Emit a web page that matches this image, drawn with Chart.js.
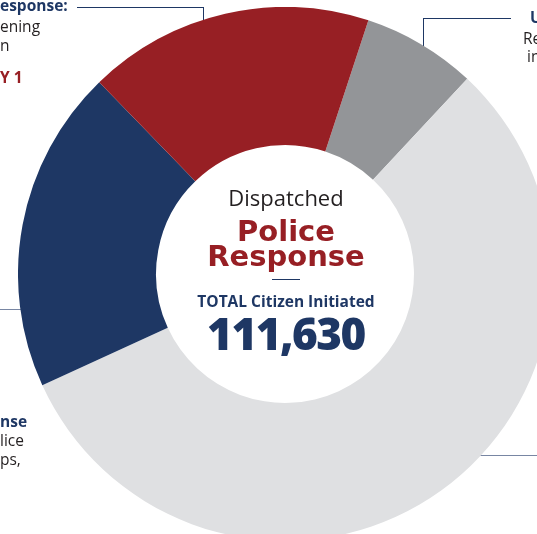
<!DOCTYPE html>
<html>
<head>
<meta charset="utf-8">
<script src="https://cdn.jsdelivr.net/npm/chart.js@4"></script>
<style>
html,body{margin:0;padding:0;background:#fff;}
body{width:537px;height:534px;overflow:hidden;position:relative;font-family:"Open Sans",sans-serif;}
#wrap{position:absolute;left:18px;top:7px;width:534px;height:534px;z-index:2;}
.ln{position:absolute;background:#1e3764;z-index:1;}
.t{position:absolute;white-space:nowrap;line-height:1;z-index:3;}
.navy{color:#1e3764;font-weight:700;}
.red{color:#971f24;font-weight:700;}
.grey{color:#231f20;}
.c{left:0;width:572px;text-align:center;}
.side{font-size:15.5px;}
</style>
</head>
<body>
<div id="wrap"><canvas id="donut"></canvas></div>

<!-- leader lines -->
<div class="ln" style="left:77px;top:7px;width:127px;height:1px;"></div>
<div class="ln" style="left:203px;top:7px;width:1px;height:20px;"></div>
<div class="ln" style="left:423px;top:18px;width:88px;height:1px;"></div>
<div class="ln" style="left:423px;top:18px;width:1px;height:35px;"></div>
<div class="ln" style="left:0;top:309px;width:35px;height:1px;background:#7886a3;"></div>
<div class="ln" style="left:460px;top:455px;width:80px;height:1px;background:#7886a3;"></div>

<!-- side labels (cut off by the frame) -->
<div class="t navy side" style="left:0;top:-2px;">esponse:</div>
<div class="t grey side" style="left:0;top:19px;">ening</div>
<div class="t grey side" style="left:0;top:38px;">n</div>
<div class="t red side" style="left:0;top:70px;">Y 1</div>

<div class="t navy side" style="left:530px;top:10px;">U</div>
<div class="t grey side" style="left:523px;top:31px;">Re</div>
<div class="t grey side" style="left:527px;top:49px;">in</div>

<div class="t navy side" style="left:0;top:414px;">nse</div>
<div class="t grey side" style="left:0;top:433px;">lice</div>
<div class="t grey side" style="left:0;top:452px;">ps,</div>

<!-- centre -->
<div class="t grey c" style="top:186px;font-size:22px;">Dispatched</div>
<div class="t red c" style="top:217px;font-size:29px;font-family:'DejaVu Sans',sans-serif;">Police</div>
<div class="t red c" style="top:242px;font-size:29px;font-family:'DejaVu Sans',sans-serif;">Response</div>
<div class="ln" style="left:272px;top:279px;width:28px;height:1px;z-index:3;"></div>
<div class="t navy c" style="top:294px;font-size:15.5px;">TOTAL Citizen Initiated</div>
<div class="t navy c" style="top:311px;font-size:44px;font-weight:800;letter-spacing:-1.5px;">111,630</div>

<script>
// share of dispatched calls, clockwise from the grey wedge
const categories=["Grey","Light grey","Navy","Red"];
const shares=[6.9,56.2,19.6,17.3];
const colors=["#939598","#dfe0e2","#1e3764","#971f24"];

new Chart(document.getElementById("donut"),{
    type:"doughnut",
    data:{
        labels:categories,
        datasets:[{data:shares,backgroundColor:colors,borderWidth:0,hoverOffset:0}]
    },
    options:{
        responsive:true,
        maintainAspectRatio:false,
        animation:false,
        cutout:"48.3%",
        rotation:18.2,
        layout:{padding:0},
        events:[],
        plugins:{legend:{display:false},tooltip:{enabled:false}}
    }
});
</script>
</body>
</html>
